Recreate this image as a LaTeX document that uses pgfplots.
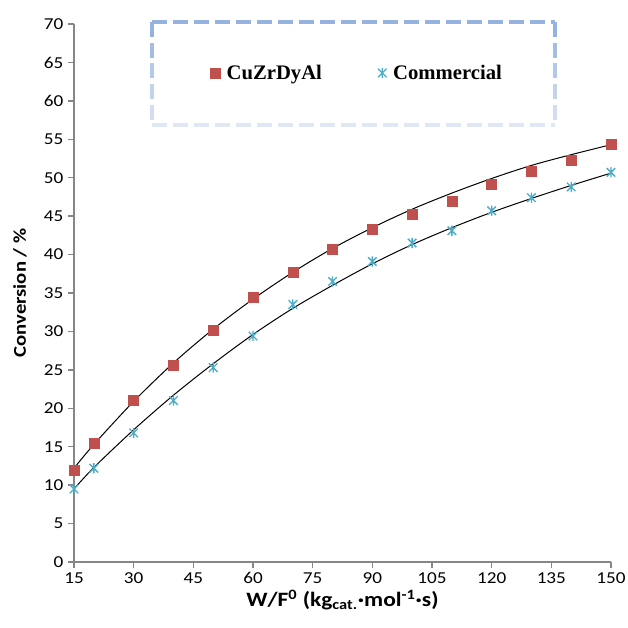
\documentclass[border=0pt]{standalone}
\usepackage{pgfplots}
\pgfplotsset{compat=1.18}
\usepackage{fontspec}
\setmainfont{Carlito}[FakeStretch=1.15]
\newfontfamily\tnr{Liberation Serif}
\definecolor{axgray}{RGB}{134,134,134}
\definecolor{cured}{RGB}{192,80,77}
\definecolor{cucyan}{RGB}{75,172,198}
\definecolor{lgA}{RGB}{150,178,225}
\definecolor{lgB}{RGB}{225,232,245}
\pgfdeclareplotmark{xstar}{%
  \pgfpathmoveto{\pgfqpoint{-\pgfplotmarksize}{-\pgfplotmarksize}}%
  \pgfpathlineto{\pgfqpoint{\pgfplotmarksize}{\pgfplotmarksize}}%
  \pgfpathmoveto{\pgfqpoint{-\pgfplotmarksize}{\pgfplotmarksize}}%
  \pgfpathlineto{\pgfqpoint{\pgfplotmarksize}{-\pgfplotmarksize}}%
  \pgfpathmoveto{\pgfqpoint{0pt}{-1.2\pgfplotmarksize}}%
  \pgfpathlineto{\pgfqpoint{0pt}{1.2\pgfplotmarksize}}%
  \pgfusepathqstroke}
\pgfplotstableread{
x y
15 12.0
20 15.5
30 21.0
40 25.6
50 30.1
60 34.4
70 37.7
80 40.7
90 43.3
100 45.2
110 47.0
120 49.1
130 50.9
140 52.3
150 54.3
}\cuzr
\pgfplotstableread{
x y
15 9.5
20 12.2
30 16.8
40 21.0
50 25.3
60 29.4
70 33.5
80 36.5
90 39.1
100 41.5
110 43.1
120 45.7
130 47.4
140 48.8
150 50.7
}\comm
\pgfplotstableread{
x y
15 12.2
20 15.3
30 20.9
40 25.9
50 30.3
60 34.2
70 37.7
80 40.8
90 43.5
100 45.9
110 48.0
120 49.9
130 51.6
140 53.0
150 54.3
}\fitA
\pgfplotstableread{
x y
15 9.5
20 12.3
30 17.2
40 21.7
50 25.8
60 29.6
70 33.0
80 36.0
90 38.8
100 41.3
110 43.5
120 45.5
130 47.3
140 49.0
150 50.6
}\fitB
\begin{document}
\begin{tikzpicture}
\path[use as bounding box] (0,0) rectangle (471pt,471pt);
\begin{axis}[
  at={(55.5pt,49.5pt)}, anchor=south west,
  scale only axis, width=402.75pt, height=403.5pt,
  xmin=15, xmax=150, ymin=0, ymax=70,
  xtick={15,30,...,150}, ytick={0,5,...,70},
  axis x line*=bottom, axis y line*=left,
  axis line style={axgray, line width=1.1pt},
  tick style={axgray, line width=1.1pt},
  tick align=outside, major tick length=4.5pt,
  ticklabel style={font=\fontsize{12.5}{14}\selectfont, black},
  /pgf/number format/assume math mode=true,
  xlabel={\textbf{W/F\textsuperscript{0} (kg\textsubscript{cat.}·mol\textsuperscript{-1}·s)}},
  ylabel={\textbf{Conversion / \%}},
  xlabel style={font=\fontsize{15.3}{17}\selectfont, yshift=2pt},
  ylabel style={font=\fontsize{13.5}{16}\selectfont, yshift=6pt},
  clip=false,
  legend columns=2,
  legend style={draw=none, fill=none, at={(axis description cs:0.5275,0.909)}, anchor=center,
    font=\tnr\bfseries\fontsize{15.5}{18}\selectfont,
    /tikz/every odd column/.append style={column sep=3pt},
    /tikz/every even column/.append style={column sep=40pt}},
]
\addplot[black, line width=0.75pt, smooth, forget plot] table {\fitA};
\addplot[black, line width=0.75pt, smooth, forget plot] table {\fitB};
\addplot[only marks, mark=square*, mark size=3.75pt, cured, mark options={fill=cured, draw=cured}] table {\cuzr};
\addlegendentry{CuZrDyAl}
\addplot[only marks, mark=xstar, mark size=3.2pt, cucyan, line width=1.0pt] table {\comm};
\addlegendentry{Commercial}
% legend frame
\draw[dash pattern=on 11.25pt off 4.5pt, line width=3pt, lgA] (rel axis cs:0.145,1.004) -- (rel axis cs:0.896,1.004);
\draw[dash pattern=on 11.25pt off 4.5pt, line width=3pt, lgB] (rel axis cs:0.145,0.812) -- (rel axis cs:0.896,0.812);
\foreach \i/\c in {0/100,1/80,2/60,3/40,4/20}{
  \pgfmathsetmacro{\ya}{1.004-\i*0.0384}
  \pgfmathsetmacro{\yb}{1.004-(\i+1)*0.0384}
  \edef\tmp{\noexpand\draw[dash pattern=on 11.25pt off 4.5pt, line width=3pt, lgA!\c!lgB] (rel axis cs:0.145,\ya) -- (rel axis cs:0.145,\yb);
  \noexpand\draw[dash pattern=on 11.25pt off 4.5pt, line width=3pt, lgA!\c!lgB] (rel axis cs:0.896,\ya) -- (rel axis cs:0.896,\yb);}
  \tmp
}
\end{axis}
\end{tikzpicture}
\end{document}
